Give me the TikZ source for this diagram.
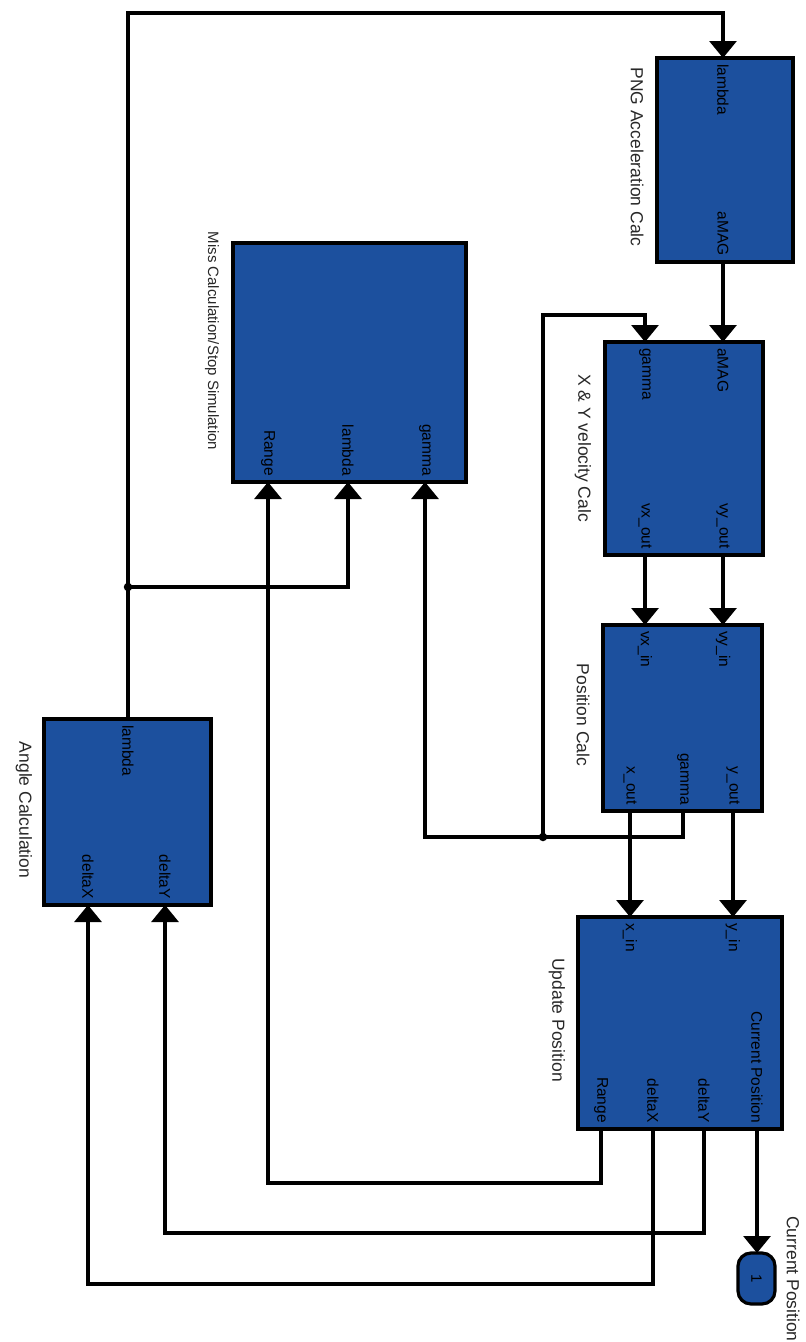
\documentclass[tikz,border=0pt]{standalone}
\usepackage{fontspec}
\setmainfont{Liberation Sans}
\usetikzlibrary{arrows.meta}
\definecolor{blk}{RGB}{28,80,158}
\definecolor{ttl}{RGB}{40,40,40}
\tikzset{
  block/.style={draw=black, line width=3.2pt, fill=blk, inner sep=0pt},
  wire/.style={draw=black, line width=3.2pt, line join=miter},
  arr/.style={wire, -{Triangle[width=27pt,length=17pt]}},
  plab/.style={rotate=-90, inner sep=0pt, text=black, font=\fontsize{15.5}{16}\selectfont},
  ptop/.style={plab, anchor=west},
  pbot/.style={plab, anchor=east},
  title/.style={rotate=-90, inner sep=0pt, text=ttl, font=\fontsize{17.5}{18}\selectfont},
  dot/.style={circle, fill=black, inner sep=0pt, minimum size=8.5pt}
}
\begin{document}
\begin{tikzpicture}[x=1pt,y=-1pt]
\useasboundingbox (0,0) rectangle (806,1342);
% blocks
\node[block, minimum width=136pt, minimum height=204pt] (png) at (725,160) {};
\node[block, minimum width=158pt, minimum height=213pt] (xy) at (684,448.5) {};
\node[block, minimum width=159pt, minimum height=186pt] (pos) at (682.5,718) {};
\node[block, minimum width=204pt, minimum height=212pt] (upd) at (680,1023) {};
\node[block, minimum width=233pt, minimum height=239pt] (miss) at (349.5,362.5) {};
\node[block, minimum width=167pt, minimum height=186pt] (ang) at (127.5,812) {};
\node[block, rounded corners=13pt, minimum width=37pt, minimum height=51pt] (out) at (756.5,1278.5) {};
\node[plab, anchor=center, font=\fontsize{15}{16}\selectfont] (outnum) at (out.center) {1};
% titles
\node[title] (tpng) at (637,157) {PNG Acceleration Calc};
\node[title] (txy) at (583,448) {X \& Y velocity Calc};
\node[title] (tpos) at (583,715) {Position Calc};
\node[title] (tupd) at (557,1020) {Update Position};
\node[title, font=\fontsize{15}{16}\selectfont] (tmiss) at (212,341) {Miss Calculation/Stop Simulation};
\node[title] (tang) at (24,810) {Angle Calculation};
\node[title] (tout) at (793,1279) {Current Position};
% port coordinates
\coordinate (png-l) at (723,58);
\coordinate (png-a) at (723,262);
\coordinate (xy-g) at (645,342);
\coordinate (xy-a) at (723,342);
\coordinate (xy-vx) at (645,555);
\coordinate (xy-vy) at (723,555);
\coordinate (pos-vx) at (645,625);
\coordinate (pos-vy) at (723,625);
\coordinate (pos-x) at (630,811);
\coordinate (pos-g) at (683,811);
\coordinate (pos-y) at (733,811);
\coordinate (upd-x) at (630,917);
\coordinate (upd-y) at (733,917);
\coordinate (upd-r) at (601,1129);
\coordinate (upd-dx) at (653,1129);
\coordinate (upd-dy) at (704,1129);
\coordinate (upd-c) at (757,1129);
\coordinate (miss-r) at (268,482);
\coordinate (miss-l) at (348,482);
\coordinate (miss-g) at (425,482);
\coordinate (ang-l) at (128,719);
\coordinate (ang-dx) at (88,905);
\coordinate (ang-dy) at (165,905);
\coordinate (out-in) at (757,1253);
% port labels
\node[ptop] (l1) at ([yshift=-6pt]png-l) {lambda};
\node[pbot] (l2) at ([yshift=6pt]png-a) {aMAG};
\node[ptop] (l3) at ([yshift=-6pt]xy-g) {gamma};
\node[ptop] (l4) at ([yshift=-6pt]xy-a) {aMAG};
\node[pbot] (l5) at ([yshift=6pt]xy-vx) {vx\_out};
\node[pbot] (l6) at ([yshift=6pt]xy-vy) {vy\_out};
\node[ptop] (l7) at ([yshift=-6pt]pos-vx) {vx\_in};
\node[ptop] (l8) at ([yshift=-6pt]pos-vy) {vy\_in};
\node[pbot] (l9) at ([yshift=6pt]pos-x) {x\_out};
\node[pbot] (l10) at ([yshift=6pt]pos-g) {gamma};
\node[pbot] (l11) at ([yshift=6pt]pos-y) {y\_out};
\node[ptop] (l12) at ([yshift=-6pt]upd-x) {x\_in};
\node[ptop] (l13) at ([yshift=-6pt]upd-y) {y\_in};
\node[pbot] (l14) at ([yshift=6pt]upd-r) {Range};
\node[pbot] (l15) at ([yshift=6pt]upd-dx) {deltaX};
\node[pbot] (l16) at ([yshift=6pt]upd-dy) {deltaY};
\node[pbot] (l17) at ([yshift=6pt]upd-c) {Current Position};
\node[pbot] (l18) at ([yshift=6pt]miss-r) {Range};
\node[pbot] (l19) at ([yshift=6pt]miss-l) {lambda};
\node[pbot] (l20) at ([yshift=6pt]miss-g) {gamma};
\node[ptop] (l21) at ([yshift=-6pt]ang-l) {lambda};
\node[pbot] (l22) at ([yshift=6pt]ang-dx) {deltaX};
\node[pbot] (l23) at ([yshift=6pt]ang-dy) {deltaY};
% routing points
\coordinate (top) at (128,13);
\coordinate (j1) at (128,587);
\coordinate (j2) at (543,837);
\coordinate (gup) at (543,315);
\coordinate (rr) at (268,1183);
\coordinate (ry) at (165,1233);
\coordinate (rx) at (88,1284);
% connectors
\draw[arr] (ang-l) -- (top) -| (png-l);
\draw[arr] (j1) -| (miss-l);
\draw[arr] (png-a) -- (xy-a);
\draw[arr] (j2) -- (gup) -| (xy-g);
\draw[arr] (xy-vx) -- (pos-vx);
\draw[arr] (xy-vy) -- (pos-vy);
\draw[wire] (pos-g) |- (j2);
\draw[arr] (j2) -| (miss-g);
\draw[arr] (pos-x) -- (upd-x);
\draw[arr] (pos-y) -- (upd-y);
\draw[arr] (upd-r) |- (rr) -- (miss-r);
\draw[arr] (upd-dy) |- (ry) -- (ang-dy);
\draw[arr] (upd-dx) |- (rx) -- (ang-dx);
\draw[arr] (upd-c) -- (out-in);
\node[dot] (d1) at (j1) {};
\node[dot] (d2) at (j2) {};
\end{tikzpicture}
\end{document}
